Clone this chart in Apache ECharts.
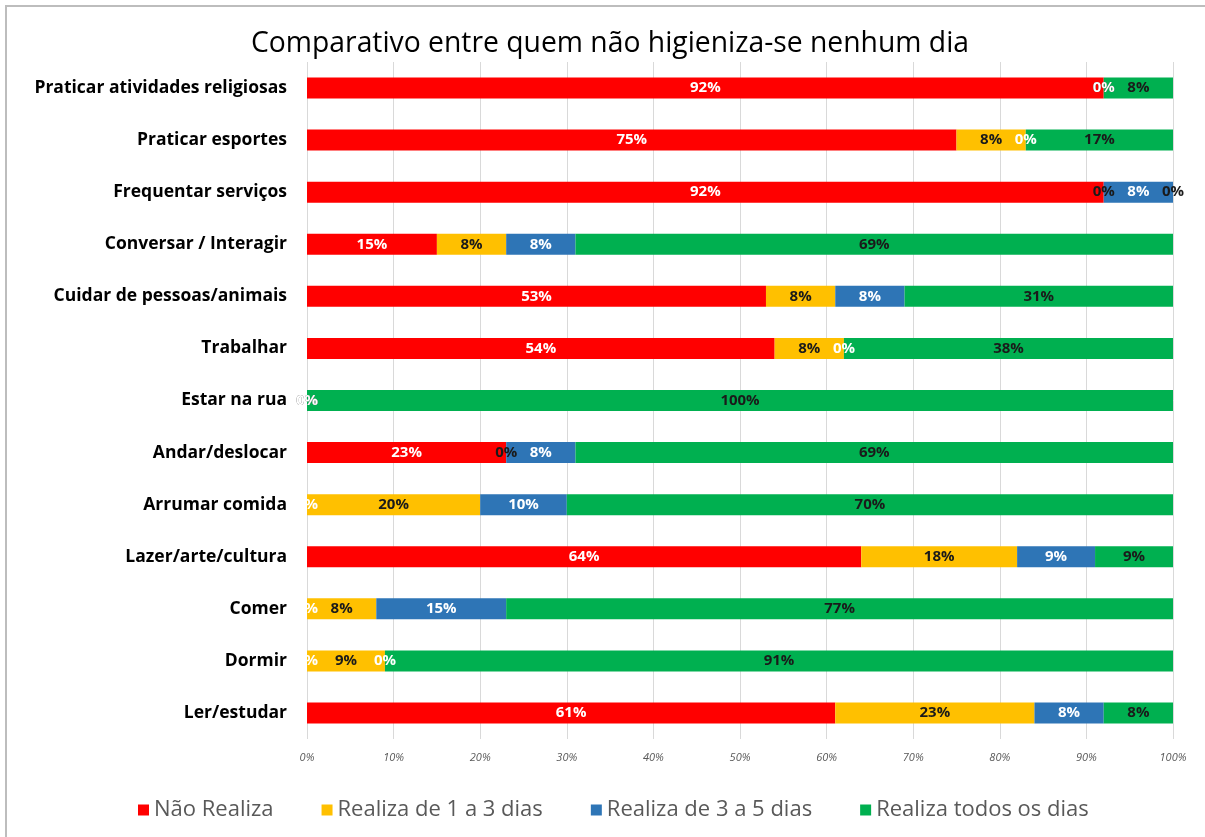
<!DOCTYPE html>
<html>
<head>
<meta charset="utf-8">
<script src="https://cdn.jsdelivr.net/npm/echarts@6/dist/echarts.min.js"></script>
<style>
  html, body { margin: 0; padding: 0; background: #fff; }
  #frame { position: absolute; left: 5px; top: 5px; width: 1210px; height: 850px; border: 2px solid #bdbdbd; box-sizing: border-box; }
  #chart { position: absolute; left: 0; top: 0; width: 1205px; height: 837px; }
</style>
</head>
<body>
<div id="frame"></div>
<div id="chart"></div>
<script>
// categories listed bottom -> top (ECharts category axis order)
var categories = ['Ler/estudar', 'Dormir', 'Comer', 'Lazer/arte/cultura', 'Arrumar comida',
  'Andar/deslocar', 'Estar na rua', 'Trabalhar', 'Cuidar de pessoas/animais',
  'Conversar / Interagir', 'Frequentar serviços', 'Praticar esportes', 'Praticar atividades religiosas'];

var naoRealiza = [61, 0, 0, 64, 0, 23, 0, 54, 53, 15, 92, 75, 92];
var de1a3 = [23, 9, 8, 18, 20, 0, 0, 8, 8, 8, 0, 8, 0];
var de3a5 = [8, 0, 15, 9, 10, 8, 0, 0, 8, 8, 8, 0, 0];
var todosDias = [8, 91, 77, 9, 70, 69, 100, 38, 31, 69, 0, 17, 8];

var seriesNames = ['Não Realiza', 'Realiza de 1 a 3 dias', 'Realiza de 3 a 5 dias', 'Realiza todos os dias'];
var seriesData = [naoRealiza, de1a3, de3a5, todosDias];
var colors = ['#FF0000', '#FFC000', '#2E75B6', '#00B050'];
var labelColors = ['#ffffff', '#1a1a1a', '#ffffff', '#1a1a1a'];

var chart = echarts.init(document.getElementById('chart'));

var series = seriesData.map(function (d, i) {
  return {
    name: seriesNames[i],
    type: 'bar',
    stack: 'total',
    data: d,
    barWidth: 21,
    itemStyle: { color: colors[i] },
    label: {
      show: true,
      position: 'inside',
      formatter: '{c}%',
      color: labelColors[i],
      fontSize: 15,
      fontWeight: 'bold',
      fontFamily: 'Open Sans'
    }
  };
});

chart.setOption({
  animation: false,
  color: colors,
  title: {
    text: 'Comparativo entre quem não higieniza-se nenhum dia',
    left: 605,
    textAlign: 'center',
    top: 25,
    textStyle: { fontFamily: 'Open Sans', fontWeight: 'normal', fontSize: 28.3, color: '#000' }
  },
  legend: {
    bottom: 11,
    left: 133,
    itemWidth: 11,
    itemHeight: 11,
    itemGap: 48,
    icon: 'rect',
    textStyle: { fontFamily: 'Open Sans', fontSize: 22, color: '#595959' },
    data: seriesNames
  },
  grid: { left: 307, right: 32, top: 62, bottom: 98 },
  xAxis: {
    type: 'value',
    min: 0,
    max: 100,
    interval: 10,
    axisLine: { show: false },
    axisTick: { show: false },
    splitLine: { lineStyle: { color: '#d9d9d9' } },
    axisLabel: {
      formatter: '{value}%',
      fontStyle: 'italic',
      fontSize: 11,
      color: '#595959',
      margin: 13,
      fontFamily: 'Open Sans'
    }
  },
  yAxis: {
    type: 'category',
    data: categories,
    axisLine: { show: false },
    axisTick: { show: false },
    axisLabel: {
      fontFamily: 'Open Sans',
      fontWeight: 'bold',
      fontSize: 17.5,
      color: '#000',
      margin: 20
    }
  },
  series: series
});
</script>
</body>
</html>
